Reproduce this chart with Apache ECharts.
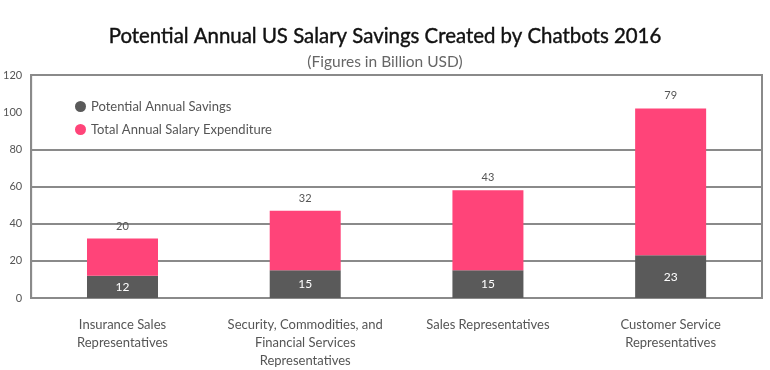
<!DOCTYPE html>
<html>
<head>
<meta charset="utf-8">
<script src="https://cdn.jsdelivr.net/npm/echarts@6/dist/echarts.min.js"></script>
<style>html,body{margin:0;padding:0;background:#fff;}#c{width:770px;height:370px;}</style>
</head>
<body>
<div id="c"></div>
<script>
const categories = ["Insurance Sales\nRepresentatives", "Security, Commodities, and\nFinancial Services\nRepresentatives", "Sales Representatives", "Customer Service\nRepresentatives"];
const savings = [12, 15, 15, 23];
const expenditure = [20, 32, 43, 79];
const seriesNames = ["Potential Annual Savings", "Total Annual Salary Expenditure"];
const titleText = "Potential Annual US Salary Savings Created by Chatbots 2016";
const subtitleText = "(Figures in Billion USD)";

const chart = echarts.init(document.getElementById('c'), null, {renderer: 'canvas'});
const gridColor = '#8a8a8a';
chart.setOption({
  animation: false,
  textStyle: {fontFamily: 'Lato'},
  title: [
    {text: titleText, left: 'center', top: 21, textStyle: {fontFamily: 'Lato', fontSize: 20.4, fontWeight: 'normal', color: '#111', textBorderColor: '#111', textBorderWidth: 0.4}},
    {text: subtitleText, left: 'center', top: 49, textStyle: {fontFamily: 'Lato', fontSize: 15.5, fontWeight: 'normal', color: '#666'}}
  ],
  legend: {
    orient: 'vertical', left: 70, top: 95, itemGap: 10,
    icon: 'circle', itemWidth: 11, itemHeight: 11,
    backgroundColor: '#fff',
    textStyle: {fontFamily: 'Lato', fontSize: 13, color: '#555'},
    data: seriesNames
  },
  grid: {left: 30, right: 8, top: 75, bottom: 71, show: true, borderColor: gridColor, borderWidth: 2, backgroundColor: 'transparent'},
  xAxis: {
    type: 'category', data: categories,
    axisLine: {lineStyle: {color: gridColor, width: 2}},
    axisTick: {show: false},
    axisLabel: {fontFamily: 'Lato', fontSize: 13, color: '#555', margin: 18, lineHeight: 18, interval: 0}
  },
  yAxis: {
    type: 'value', min: 0, max: 120, interval: 20,
    axisLine: {show: true, lineStyle: {color: gridColor, width: 2}},
    axisTick: {show: false},
    axisLabel: {fontFamily: 'Lato', fontSize: 11, color: '#555', margin: 9},
    splitLine: {lineStyle: {color: [gridColor, gridColor, gridColor, gridColor, gridColor, 'rgba(0,0,0,0)', gridColor], width: 2}}
  },
  series: [
    {
      name: seriesNames[0], type: 'bar', stack: 'a', data: savings, barWidth: 71,
      itemStyle: {color: '#5a5a5a'},
      label: {show: true, position: 'inside', color: '#fff', fontFamily: 'Lato', fontSize: 12}
    },
    {
      name: seriesNames[1], type: 'bar', stack: 'a', data: expenditure, barWidth: 71,
      itemStyle: {color: '#ff4479'},
      label: {show: true, position: 'top', distance: 7, color: '#555', fontFamily: 'Lato', fontSize: 11}
    }
  ]
});
</script>
</body>
</html>
